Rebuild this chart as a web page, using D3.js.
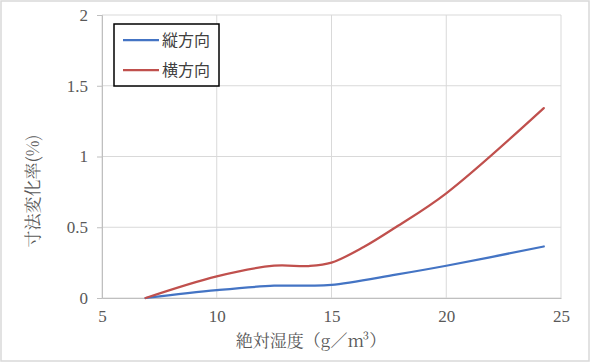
<!DOCTYPE html>
<html>
<head>
<meta charset="utf-8">
<script src="https://cdn.jsdelivr.net/npm/d3@7"></script>
<style>
  html, body { margin: 0; padding: 0; background: #fff; }
  svg { display: block; }
</style>
</head>
<body>
<svg id="chart" width="592" height="363"></svg>
<script>
/** data */
const xTicks = [5, 10, 15, 20, 25];
const yTicks = [0, 0.5, 1, 1.5, 2];

const tateX = [6.9, 10, 12.5, 14, 15, 17.8, 20, 24.25];
const tateY = [0, 0.055, 0.087, 0.087, 0.092, 0.165, 0.228, 0.364];

const yokoX = [6.9, 10, 12.5, 14, 15, 16.4, 17.8, 20, 24.25];
const yokoY = [0, 0.153, 0.228, 0.226, 0.25, 0.36, 0.5, 0.74, 1.342];

const series = [
  { name: "縦方向", xs: tateX, ys: tateY, color: "#4474c4" },
  { name: "横方向", xs: yokoX, ys: yokoY, color: "#c0504d" },
];

const NUM_FONT = '"Liberation Serif", serif';
const TITLE_FONT = '"Noto Serif CJK JP", "Liberation Serif", serif';
const LEGEND_FONT = '"Noto Sans CJK JP", "Noto Sans", sans-serif';

const svg = d3.select("#chart");
const width = 592, height = 363;
const margin = { top: 15, right: 31, bottom: 65, left: 102 };

/** outer frame */
svg.append("rect")
  .attr("x", 1).attr("y", 1)
  .attr("width", 588).attr("height", 360)
  .attr("fill", "#fff")
  .attr("stroke", "#d9d9d9")
  .attr("stroke-width", 1.5);

const xScale = d3.scaleLinear().domain([5, 25]).range([margin.left, width - margin.right]);
const yScale = d3.scaleLinear().domain([0, 2]).range([height - margin.bottom, margin.top]);

/** gridlines */
svg.append("g")
  .selectAll("line")
  .data(yTicks)
  .join("line")
  .attr("x1", xScale(5)).attr("x2", xScale(25))
  .attr("y1", (d) => yScale(d)).attr("y2", (d) => yScale(d))
  .attr("stroke", "#d9d9d9").attr("stroke-width", 1);
svg.append("g")
  .selectAll("line")
  .data(xTicks)
  .join("line")
  .attr("x1", (d) => xScale(d)).attr("x2", (d) => xScale(d))
  .attr("y1", yScale(0)).attr("y2", yScale(2))
  .attr("stroke", "#d9d9d9").attr("stroke-width", 1);

/** axes */
const fmt = (d) => String(d);
const xAxis = d3.axisBottom(xScale).tickValues(xTicks).tickFormat(fmt).tickSize(0).tickPadding(12);
const yAxis = d3.axisLeft(yScale).tickValues(yTicks).tickFormat(fmt).tickSize(5).tickPadding(9);

const gx = svg.append("g")
  .attr("transform", `translate(0, ${yScale(0)})`)
  .call(xAxis);
const gy = svg.append("g")
  .attr("transform", `translate(${xScale(5)}, 0)`)
  .call(yAxis);

for (const g of [gx, gy]) {
  g.attr("font-family", null).attr("font-size", null);
  g.select(".domain").attr("stroke", "#bfbfbf").attr("stroke-width", 1);
  g.selectAll(".tick line").attr("stroke", "#bfbfbf");
  g.selectAll("text")
    .attr("font-family", NUM_FONT)
    .attr("font-size", 17)
    .attr("fill", "#595959");
}

/** lines */
const line = d3.line()
  .curve(d3.curveCatmullRom.alpha(0.5))
  .x((d) => xScale(d[0]))
  .y((d) => yScale(d[1]));

for (const { xs, ys, color } of series)
  svg.append("path")
    .attr("fill", "none")
    .attr("stroke", color)
    .attr("stroke-width", 2.25)
    .attr("stroke-linecap", "round")
    .attr("d", line(d3.zip(xs, ys)));

/** axis titles */
svg.append("text")
  .attr("x", 311).attr("y", 347)
  .attr("text-anchor", "middle")
  .attr("font-family", TITLE_FONT)
  .attr("font-size", 17)
  .attr("fill", "#595959")
  .text("絶対湿度（g／m³）");

svg.append("text")
  .attr("transform", "translate(39, 191) rotate(-90)")
  .attr("text-anchor", "middle")
  .attr("font-family", TITLE_FONT)
  .attr("font-size", 17)
  .attr("fill", "#595959")
  .text("寸法変化率(%)");

/** legend */
const legend = svg.append("g");
legend.append("rect")
  .attr("x", 114).attr("y", 24)
  .attr("width", 105).attr("height", 62)
  .attr("fill", "#fff")
  .attr("stroke", "#000")
  .attr("stroke-width", 1.5);

series.forEach(({ name, color }, i) => {
  const y = 40 + i * 30;
  legend.append("line")
    .attr("x1", 123).attr("x2", 159)
    .attr("y1", y).attr("y2", y)
    .attr("stroke", color)
    .attr("stroke-width", 2.25);
  legend.append("text")
    .attr("x", 162).attr("y", y)
    .attr("dy", "0.35em")
    .attr("font-family", LEGEND_FONT)
    .attr("font-size", 16)
    .attr("fill", "#404040")
    .text(name);
});
</script>
</body>
</html>
